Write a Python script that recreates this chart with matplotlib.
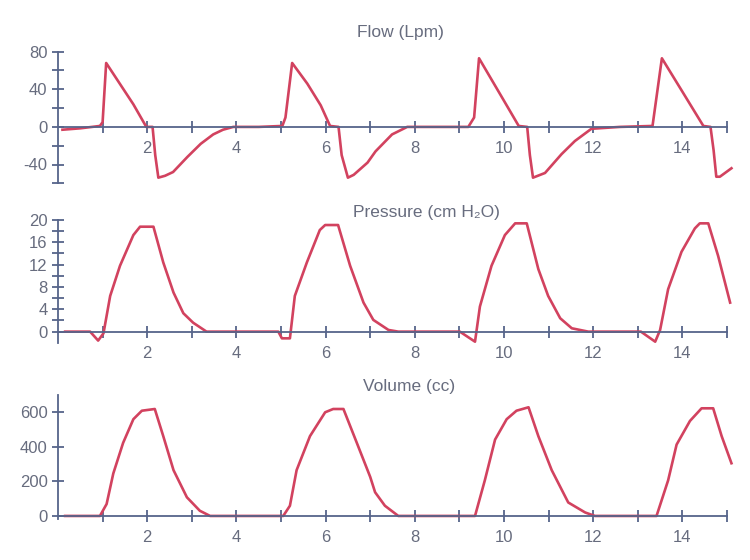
import numpy as np
import matplotlib
matplotlib.use("Agg")
import matplotlib.pyplot as plt
from matplotlib.ticker import FixedLocator, FuncFormatter

plt.rcParams['font.family'] = ['Liberation Sans', 'DejaVu Sans']

# ---- data (time in s) ----
flow_t = [0.1, 0.5, 0.94, 1.0, 1.08, 1.69, 1.98, 2.12, 2.18, 2.25, 2.4, 2.58, 2.9, 3.2, 3.48, 3.7, 3.93,
          4.5, 5.03, 5.1, 5.25, 5.59, 5.89, 6.1, 6.29, 6.36, 6.5, 6.63, 6.94, 7.12, 7.49, 7.83,
          8.5, 9.2, 9.33, 9.44, 9.96, 10.33, 10.52, 10.58, 10.65, 10.92, 11.29, 11.59, 11.96,
          12.6, 13.33, 13.54, 13.98, 14.47, 14.63, 14.7, 14.76, 14.84, 15.1]
flow_v = [-3, -1.5, 1, 5, 68, 24, 0, 0, -30, -54, -52, -48, -32, -18, -8, -3, 0,
          0, 1, 10, 68, 46, 23, 1, 0, -30, -54, -51, -38, -26, -8, 0,
          0, 0, 10, 73, 31, 1, 0, -30, -54, -49, -29, -15, -2,
          0, 1, 73, 39, 1, 0, -25, -53, -53, -44]

pres_t = [0.16, 0.72, 0.9, 1.02, 1.17, 1.39, 1.69, 1.84, 2.14, 2.36, 2.59, 2.81, 3.03, 3.33,
          4.94, 5.02, 5.2, 5.31, 5.58, 5.87, 5.99, 6.28, 6.55, 6.85, 7.07, 7.41, 7.63,
          9.01, 9.35, 9.46, 9.72, 10.02, 10.25, 10.51, 10.77, 10.99, 11.26, 11.52, 11.89,
          13.07, 13.39, 13.5, 13.68, 13.98, 14.28, 14.39, 14.58, 14.8, 15.07]
pres_v = [0, 0, -1.6, -0.3, 6.4, 11.8, 17.3, 18.8, 18.8, 12.4, 7.0, 3.3, 1.6, 0,
          0, -1.2, -1.2, 6.4, 12.4, 18.2, 19.1, 19.1, 11.8, 5.2, 2.1, 0.3, 0,
          0, -1.8, 4.5, 11.8, 17.3, 19.4, 19.4, 11.2, 6.4, 2.4, 0.6, 0,
          0, -1.8, 0.3, 7.6, 14.3, 18.5, 19.4, 19.4, 13.6, 5.2]

vol_t = [0.16, 0.94, 1.09, 1.24, 1.46, 1.69, 1.88, 2.17, 2.36, 2.59, 2.89, 3.18, 3.41,
         5.05, 5.2, 5.35, 5.65, 5.99, 6.17, 6.4, 6.7, 7.0, 7.11, 7.33, 7.63,
         9.35, 9.57, 9.8, 10.06, 10.28, 10.55, 10.77, 11.07, 11.44, 11.82, 12.04,
         13.42, 13.68, 13.87, 14.17, 14.43, 14.69, 14.88, 15.1]
vol_v = [0, 0, 69, 246, 423, 560, 609, 619, 462, 265, 108, 30, 0,
         0, 59, 265, 462, 600, 619, 619, 423, 226, 137, 59, 0,
         0, 206, 442, 560, 609, 629, 462, 265, 78, 20, 0,
         0, 206, 413, 550, 623, 623, 462, 305]

titles = ["Flow (Lpm)", "Pressure (cm H₂O)", "Volume (cc)"]
x_labels = [2, 4, 6, 8, 10, 12, 14]

AX = '#56648a'
TXT = '#676c7e'
LINE = '#d2425f'

fig = plt.figure(figsize=(7.5, 5.6), dpi=100)
fig.patch.set_facecolor('white')

W, H = 750.0, 560.0
x0px, xscale = 58.0, 44.6
xmax = 15.15
left = x0px / W
width = xmax * xscale / W


def make_axes(top_px, bot_px):
    return fig.add_axes([left, 1 - bot_px / H, width, (bot_px - top_px) / H])


def style(ax, ylo, yhi, yticks, ylabels, spine_lo, spine_hi):
    ax.set_xlim(0, xmax)
    ax.set_ylim(ylo, yhi)
    for s in ['top', 'right']:
        ax.spines[s].set_visible(False)
    ax.spines['bottom'].set_position(('data', 0))
    ax.spines['bottom'].set_bounds(0, 15)
    ax.spines['left'].set_bounds(spine_lo, spine_hi)
    for s in ['bottom', 'left']:
        ax.spines[s].set_color(AX)
        ax.spines[s].set_linewidth(1.3)
    ax.xaxis.set_major_locator(FixedLocator(list(range(1, 16))))
    ax.xaxis.set_major_formatter(FuncFormatter(lambda v, p: str(int(v)) if int(round(v)) in x_labels else ''))
    ax.yaxis.set_major_locator(FixedLocator(yticks))
    ax.yaxis.set_major_formatter(FuncFormatter(lambda v, p: str(int(round(v))) if int(round(v)) in ylabels else ''))
    ax.tick_params(axis='both', direction='inout', length=9, width=1.3, color=AX,
                   labelcolor=TXT, labelsize=12)
    ax.tick_params(axis='x', pad=5.5)
    ax.tick_params(axis='y', pad=3)
    ax.patch.set_alpha(0)


# Flow
ax1 = make_axes(51.7, 183.3)
ax1.plot(flow_t, flow_v, color=LINE, lw=1.9, solid_joinstyle='round', clip_on=False)
style(ax1, -60, 80, [80, 60, 40, 20, 0, -20, -40, -60], [80, 40, 0, -40], -60, 80)

# Pressure
ax2 = make_axes(220.0, 342.8)
ax2.plot(pres_t, pres_v, color=LINE, lw=1.9, solid_joinstyle='round', clip_on=False)
style(ax2, -2, 20, list(range(0, 21, 2)), [0, 4, 8, 12, 16, 20], -2, 20)

# Volume
ax3 = make_axes(395.0, 519.4)
ax3.plot(vol_t, vol_v, color=LINE, lw=1.9, solid_joinstyle='round', clip_on=False)
style(ax3, -20, 700, [0, 200, 400, 600], [0, 200, 400, 600], -15, 700)

fig.text(400 / W, 1 - 33 / H, titles[0], ha='center', va='center', fontsize=12.5, color=TXT)
fig.text(426 / W, 1 - 212 / H, titles[1], ha='center', va='center', fontsize=12.5, color=TXT)
fig.text(409 / W, 1 - 387 / H, titles[2], ha='center', va='center', fontsize=12.5, color=TXT)

fig.savefig('out.png', dpi=100, facecolor='white')
